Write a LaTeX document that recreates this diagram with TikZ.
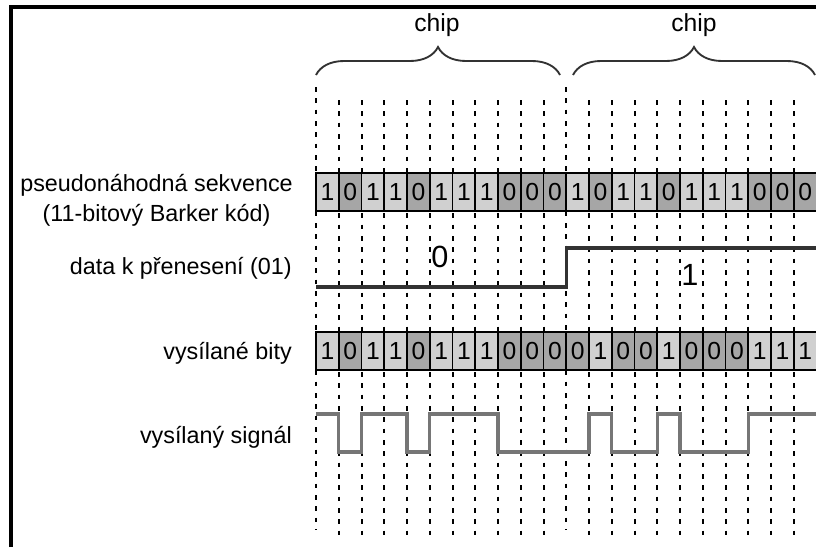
\documentclass[tikz,border=0pt]{standalone}
\usepackage{fontspec}
\setmainfont{Liberation Sans}
\usetikzlibrary{decorations.pathreplacing}

\tikzset{
  bitcell/.style={draw=black, line width=1.4pt, minimum width=17.06pt, minimum height=28.5pt, inner sep=0pt, font=\fontsize{18.5}{18.5}\selectfont},
  bit1/.style={bitcell, fill={rgb, 255:red, 208; green, 208; blue, 208 }},
  bit0/.style={bitcell, fill={rgb, 255:red, 166; green, 166; blue, 166 }},
  rowlabel/.style={anchor=east, inner sep=0.75pt, align=center, font=\fontsize{17.5}{22.5}\selectfont},
  gridline/.style={dash pattern=on 3.5pt off 5pt, line width=1.5pt},
  chipbrace/.style={decorate, decoration={brace, amplitude=21pt}, line width=1.4pt, color={rgb, 255:red, 50; green, 50; blue, 50 }},
}

\begin{document}
\begin{tikzpicture}[x=0.75pt,y=0.75pt,yscale=-1,xscale=1]

    \clip (0,0) rectangle (816,547);

    % Frame: nur oben und links
    \draw [line width=2.6pt] (11,547) -- (11,7) -- (816,7) ;

    % Gitter: gestrichelte Linien an den Bitgrenzen
    \foreach \i in {1,...,10,12,13,...,21}
      \draw [gridline] ({316+\i*22.75},100) -- ({316+\i*22.75},537) ;
    \foreach \i in {0,11,22}
      \draw [gridline] ({316+\i*22.75},87) -- ({316+\i*22.75},530) ;

    % Klammern und Text "chip"
    \node (chipA) at (437,25) [font=\fontsize{18.5}{18.5}\selectfont] {chip};
    \node (chipB) at (694,25) [font=\fontsize{18.5}{18.5}\selectfont] {chip};
    \draw [chipbrace] (316,75) -- (560,75) ;
    \draw [chipbrace] (573,75) -- (815,75) ;

    % Zeile 1: Barker-Sequenz
    \foreach \b [count=\i from 0] in {1,0,1,1,0,1,1,1,0,0,0,1,0,1,1,0,1,1,1,0,0,0}
      \node [bit\b] (pn\i) at ({316+(\i+0.5)*22.75},192) {\b};

    % Zeile 2: Daten
    \draw [line width=2.4pt, color={rgb, 255:red, 50; green, 50; blue, 50 }] (316,287) -- (566.25,287) -- (566.25,248) -- (820,248) ;
    \node (data0) at (440,257) [font=\fontsize{23}{23}\selectfont] {0};
    \node (data1) at (690,275) [font=\fontsize{23}{23}\selectfont] {1};

    % Zeile 3: gesendete Bits
    \foreach \b [count=\i from 0] in {1,0,1,1,0,1,1,1,0,0,0,0,1,0,0,1,0,0,0,1,1,1}
      \node [bit\b] (tx\i) at ({316+(\i+0.5)*22.75},351) {\b};

    % Zeile 4: Signal
    \draw [line width=2.6pt, color={rgb, 255:red, 118; green, 118; blue, 118 }] (316,414) -- (338.75,414) -- (338.75,452) -- (361.5,452) -- (361.5,414) -- (407,414) -- (407,452) -- (429.75,452) -- (429.75,414) -- (498,414) -- (498,452) -- (589,452) -- (589,414) -- (611.75,414) -- (611.75,452) -- (657.25,452) -- (657.25,414) -- (680,414) -- (680,452) -- (748.25,452) -- (748.25,414) -- (820,414) ;

    % Text boxes links
    \node [rowlabel] (lblpn) at (294,200) {pseudonáhodná sekvence\\(11-bitový Barker kód)};
    \node [rowlabel] (lbldata) at (293,268) {data k přenesení (01)};
    \node [rowlabel] (lbltx) at (293,353) {vysílané bity};
    \node [rowlabel] (lblsig) at (293,437) {vysílaný signál};

\end{tikzpicture}
\end{document}
